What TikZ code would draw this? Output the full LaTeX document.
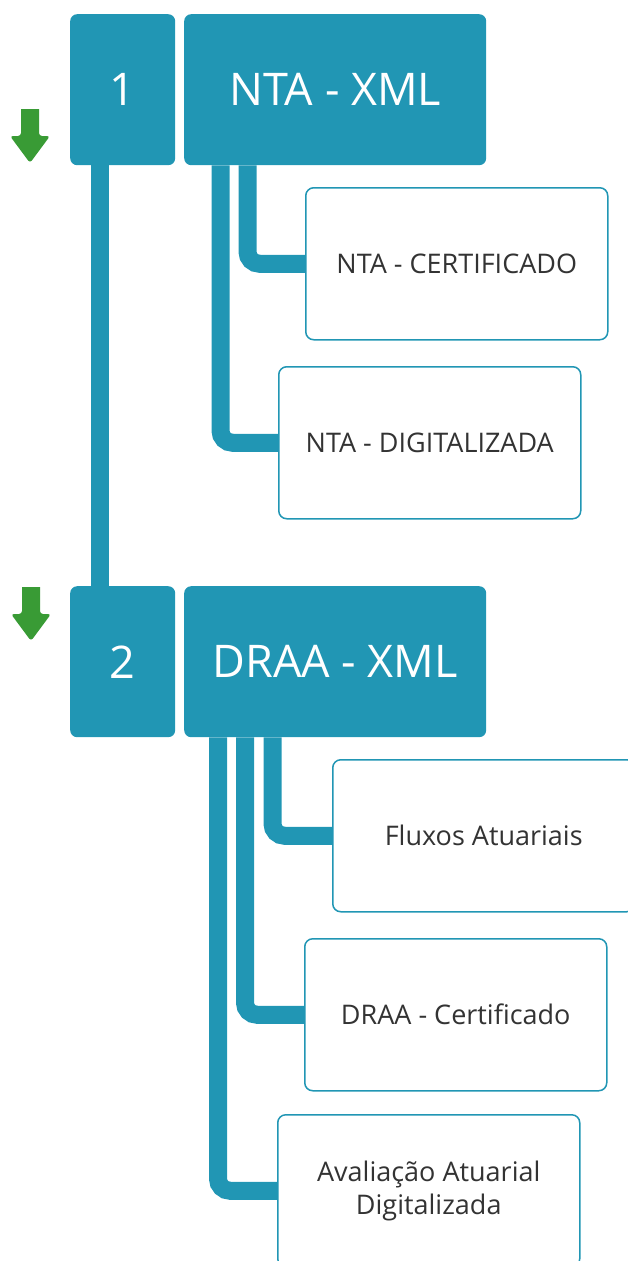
\documentclass[tikz,border=0pt]{standalone}
\usepackage{fontspec}
\setmainfont{Open Sans}
\usetikzlibrary{
    backgrounds,
    calc
}
\definecolor{boxteal}{RGB}{33,150,180}
\definecolor{arrowgreen}{RGB}{57,155,53}
\definecolor{itemtext}{RGB}{51,51,51}
\tikzset {
    number box/.style = {
        fill = boxteal, rounded corners = 7pt, anchor = north west,
        minimum width = 105pt, minimum height = 151pt, inner sep = 0pt,
        text = white, font = \fontsize{45}{50}\selectfont
    },
    title box/.style = {
        number box, minimum width = 302pt
    },
    item box/.style = {
        draw = boxteal, line width = 1.5pt, fill = white,
        rounded corners = 8pt, anchor = north west,
        minimum width = 302pt, minimum height = 152pt, inner sep = 0pt,
        align = center, text = itemtext,
        font = \fontsize{27}{33}\selectfont
    },
    link/.style = {
        draw = boxteal, line width = 18pt, rounded corners = 12pt
    },
    down arrow/.pic = {
        \fill [arrowgreen] (-9, 0) -- (9, 0) [rounded corners = 3pt]
            -- (9, 27) -- (20, 27) -- (0, 54) -- (-20, 27) -- (-9, 27)
            [sharp corners] -- cycle;
    }
}

\begin{document}
\begin{tikzpicture}[x = 1pt, y = -1pt]
    \useasboundingbox (0, 0) rectangle (628, 1261);
    \clip (0, 0) rectangle (628, 1261);
    % first step
    \node (one) [number box] at (70, 14) {1};
    \node (ntaxml) [title box] at (184, 14) {NTA - XML};
    \node (ntacert) [item box] at (305, 187) {NTA - CERTIFICADO};
    \node (ntadig) [item box] at (278, 366) {NTA - DIGITALIZADA};
    % second step
    \node (two) [number box] at (70, 586) {2};
    \node (draaxml) [title box] at (184, 586) {DRAA - XML};
    \node (fluxos) [item box] at (332, 759) {Fluxos Atuariais};
    \node (draacert) [item box] at (304, 938) {DRAA - Certificado};
    \node (avaliacao) [item box] at (277, 1114) {Avaliação Atuarial\\Digitalizada};
    % arrows
    \pic at (30, 109) {down arrow};
    \pic at (31, 587) {down arrow};
    \begin{scope}[on background layer]
        \draw [link] ([xshift = 29.5pt]one.south west) -- ([xshift = 29.5pt]two.north west);
        \draw [link] ([xshift = 36.5pt]ntaxml.south west) |- (ntadig.west);
        \draw [link] ([xshift = 63.5pt]ntaxml.south west) |- (ntacert.west);
        \draw [link] ([xshift = 34pt]draaxml.south west) |- (avaliacao.west);
        \draw [link] ([xshift = 61pt]draaxml.south west) |- (draacert.west);
        \draw [link] ([xshift = 88.5pt]draaxml.south west) |- (fluxos.west);
    \end{scope}
\end{tikzpicture}
\end{document}
